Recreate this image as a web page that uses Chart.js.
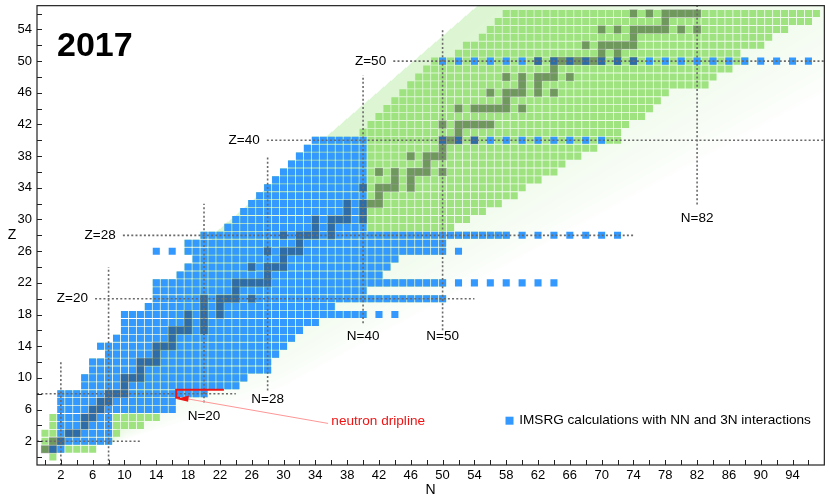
<!DOCTYPE html>
<html>
<head>
<meta charset="utf-8">
<title>Nuclear chart 2017</title>
<script src="https://cdn.jsdelivr.net/npm/chart.js@4.4.0/dist/chart.umd.min.js"></script>
<style>
  html, body { margin: 0; padding: 0; background: #fff; }
  #chart { display: block; }
</style>
</head>
<body>
<canvas id="chart" width="830" height="500"></canvas>
<script>
// ---- data (index = proton number Z) ----

// known nuclei: lightest and heaviest neutron number for Z = 0..56
const knownLo = [1, 0, 0, 0, 1, 1, 2, 2, 2, 5, 5, 6, 6, 8, 7, 9, 10, 10, 10, 13,
    14, 14, 14, 17, 18, 19, 18, 18, 20, 23, 24, 25, 26, 27, 28, 29, 30, 31, 32, 33,
    34, 40, 41, 42, 43, 44, 45, 46, 47, 48, 49, 52, 53, 55, 56, 57, 58];
const knownHi = [1, 6, 8, 9, 12, 14, 16, 16, 20, 24, 25, 28, 28, 29, 30, 31, 32, 34, 40, 36,
    50, 40, 50, 42, 43, 44, 50, 50, 58, 51, 53, 55, 57, 59, 60, 62, 64, 65, 67, 69,
    72, 72, 73, 75, 76, 77, 78, 83, 84, 86, 88, 87, 90, 91, 93, 96, 97];

// IMSRG calculations: contiguous block of N for Z = 0..40
const calcLo = [null, 1, 2, 2, 2, 2, 2, 2, 2, 5, 5, 6, 6, 8, 7, 9, 10, 10, 10, 13,
    14, 14, 14, 17, 18, 19, 18, 18, 20, 23, 24, 25, 26, 27, 28, 29, 30, 31, 32, 33, 34];
const calcHi = [null, 2, 8, 8, 8, 8, 16, 16, 20, 24, 25, 28, 28, 29, 30, 31, 32, 34, 40, 36,
    50, 40, 50, 42, 43, 44, 50, 50, 58, 40, 40, 40, 40, 40, 40, 40, 40, 40, 40, 40, 40];

// IMSRG calculations outside the blocks: [Z, list of N]
const calcChains = [
    [18, [42, 44]],
    [22, [52, 54, 56, 58, 60, 62, 64]],
    [26, [14, 16, 52]],
    [28, [60, 62, 64, 66, 68, 70, 72]],
    [40, [50, 52, 54, 56, 58, 60, 62, 64, 66, 68, 70]],
    [50, [50, 52, 54, 56, 58, 60, 62, 64, 66, 68, 70, 72, 74, 76, 78, 80, 82, 84, 86, 88, 90, 92, 94, 96]]
];

// stable nuclei: N values for Z = 0..56
const stableN = [
    [], [0, 1], [1, 2], [3, 4], [5], [5, 6], [6, 7], [7, 8], [8, 9, 10], [10],
    [10, 11, 12], [12], [12, 13, 14], [14], [14, 15, 16], [16], [16, 17, 18, 20], [18, 20], [18, 20, 22], [20, 22],
    [20, 22, 23, 24, 26], [24], [24, 25, 26, 27, 28], [28], [26, 28, 29, 30], [30], [28, 30, 31, 32], [32], [30, 32, 33, 34, 36], [34, 36],
    [34, 36, 37, 38, 40], [38, 40], [38, 40, 41, 42], [42], [40, 42, 43, 44, 46], [44, 46], [42, 44, 46, 47, 48, 50], [48], [46, 48, 49, 50], [50],
    [50, 51, 52, 54], [52], [50, 52, 53, 54, 55, 56], [], [52, 54, 55, 56, 57, 58, 60], [58], [56, 58, 59, 60, 62, 64], [60, 62], [58, 60, 62, 63, 64, 66], [64],
    [62, 64, 65, 66, 67, 68, 69, 70, 72, 74], [70, 72], [68, 70, 71, 72, 73, 74], [74], [70, 72, 74, 75, 76, 77, 78, 80, 82], [78], [74, 76, 78, 79, 80, 81, 82]
];

// magic numbers: [value, from, to]
const magicZ = [[2, -1, 12], [8, -1, 24], [20, 6.3, 54], [28, 9.8, 74], [40, 27.9, 98], [50, 43.8, 98]];
const magicN = [[2, -1, 12], [8, -1, 24], [20, 6.9, 32], [28, 8.4, 38], [40, 16.9, 48.2], [50, 16, 54], [82, 31.9, 57]];
const labelZ = [20, 28, 40, 50];
const labelN = [[20, 5.2], [28, 7.3], [40, 15.2], [50, 15.2], [82, 30.1]];

// labelled ticks
const nTickLabels = [2, 6, 10, 14, 18, 22, 26, 30, 34, 38, 42, 46, 50, 54, 58, 62, 66, 70, 74, 78, 82, 86, 90, 94];
const zTickLabels = [2, 6, 10, 14, 18, 22, 26, 30, 34, 38, 42, 46, 50, 54];

const yearText = '2017';
const calcLabel = 'IMSRG calculations with NN and 3N interactions';
const driplineText = 'neutron dripline';

// ---- build the point lists ----
const knownPts = [];
knownLo.forEach((lo, z) => {
    for (let n = lo; n <= knownHi[z]; n++) knownPts.push({ x: n, y: z });
});

const calcPts = [];
calcLo.forEach((lo, z) => {
    if (lo === null) return;
    for (let n = lo; n <= calcHi[z]; n++) calcPts.push({ x: n, y: z });
});
calcChains.forEach(([z, list]) => list.forEach(n => calcPts.push({ x: n, y: z })));

const stablePts = [];
stableN.forEach((list, z) => list.forEach(n => stablePts.push({ x: n, y: z })));

// ---- drawing helpers ----
const FONT = "'Liberation Sans', Arial, Helvetica, sans-serif";
const GREEN = 'rgb(158, 227, 128)';
const BLUE = 'rgb(51, 153, 255)';

// edges of the shaded band (N, Z)
const bandUpper = [[8, 1.5], [21.5, 28.4], [54.4, 57]];
const bandLower = [[8, 1.5], [14, 3.4], [22, 5.6], [30, 8.6], [41.9, 15.0], [89.4, 40.9]];

function lineAt(pts, n) {
    if (n < pts[0][0]) return null;
    for (let i = 1; i < pts.length; i++) {
        if (n <= pts[i][0] || i === pts.length - 1) {
            const [n0, z0] = pts[i - 1];
            const [n1, z1] = pts[i];
            return z0 + (z1 - z0) * (n - n0) / (n1 - n0);
        }
    }
    return null;
}

const bandPlugin = {
    id: 'band',
    beforeDatasetsDraw(chart) {
        const { ctx, chartArea: a, scales: { x, y } } = chart;
        const w = Math.round(a.right - a.left);
        const h = Math.round(a.bottom - a.top);
        const off = document.createElement('canvas');
        off.width = w;
        off.height = h;
        const octx = off.getContext('2d');
        const img = octx.createImageData(w, h);
        for (let j = 0; j < h; j++) {
            const z = y.getValueForPixel(a.top + j + 0.5);
            for (let i = 0; i < w; i++) {
                const n = x.getValueForPixel(a.left + i + 0.5);
                const lo = lineAt(bandLower, n);
                const hi = lineAt(bandUpper, n);
                if (lo === null || hi === null || z <= lo || z >= hi) continue;
                const t = (z - lo) / (hi - lo);
                const k = (j * w + i) * 4;
                img.data[k] = 158;
                img.data[k + 1] = 227;
                img.data[k + 2] = 128;
                img.data[k + 3] = Math.round(255 * 0.36 * Math.pow(t, 0.7));
            }
        }
        octx.putImageData(img, 0, 0);
        ctx.drawImage(off, a.left, a.top, w, h);
    }
};

const overlayPlugin = {
    id: 'overlay',
    afterDatasetsDraw(chart) {
        const { ctx, chartArea: a, scales: { x, y } } = chart;
        const px = n => x.getPixelForValue(n);
        const py = z => y.getPixelForValue(z);

        ctx.save();
        ctx.beginPath();
        ctx.rect(a.left, a.top, a.right - a.left, a.bottom - a.top);
        ctx.clip();

        // dotted magic number lines
        ctx.strokeStyle = '#6a6a6a';
        ctx.lineWidth = 1.6;
        ctx.setLineDash([2, 2.2]);
        magicZ.forEach(([z, n0, n1]) => {
            ctx.beginPath();
            ctx.moveTo(px(n0), py(z));
            ctx.lineTo(px(n1), py(z));
            ctx.stroke();
        });
        magicN.forEach(([n, z0, z1]) => {
            ctx.beginPath();
            ctx.moveTo(px(n), py(z0));
            ctx.lineTo(px(n), py(z1));
            ctx.stroke();
        });
        ctx.setLineDash([]);

        // labels
        ctx.fillStyle = '#000';
        ctx.font = '13.5px ' + FONT;
        ctx.textBaseline = 'middle';
        ctx.textAlign = 'right';
        labelZ.forEach(z => {
            const line = magicZ.find(l => l[0] === z);
            ctx.fillText('Z=' + z, px(line[1] - 0.9), py(z));
        });
        ctx.textAlign = 'center';
        labelN.forEach(([n, z]) => ctx.fillText('N=' + n, px(n), py(z)));

        // neutron dripline marker
        ctx.strokeStyle = 'rgb(255, 150, 150)';
        ctx.lineWidth = 1;
        ctx.beginPath();
        ctx.moveTo(px(18), py(7.34));
        ctx.lineTo(px(35.6), py(4.25));
        ctx.stroke();

        ctx.strokeStyle = 'rgb(240, 20, 20)';
        ctx.lineWidth = 2;
        ctx.beginPath();
        ctx.moveTo(px(22.5), py(8.5));
        ctx.lineTo(px(16.5), py(8.5));
        ctx.lineTo(px(16.5), py(7.5));
        ctx.lineTo(px(17), py(7.5));
        ctx.stroke();

        ctx.fillStyle = 'rgb(240, 20, 20)';
        ctx.beginPath();
        ctx.moveTo(px(16.55), py(7.34));
        ctx.lineTo(px(18.1), py(7.78));
        ctx.lineTo(px(18.0), py(6.98));
        ctx.closePath();
        ctx.fill();

        ctx.font = '13.6px ' + FONT;
        ctx.textAlign = 'center';
        ctx.fillText(driplineText, px(41.9), py(4.56));

        ctx.restore();
    },
    afterDraw(chart) {
        const { ctx, chartArea: a, scales: { x, y } } = chart;
        ctx.save();

        // inward tick marks every 2
        ctx.strokeStyle = '#222';
        ctx.lineWidth = 1;
        ctx.beginPath();
        for (let n = 0; n < x.max; n += 2) {
            const p = Math.round(x.getPixelForValue(n)) + 0.5;
            ctx.moveTo(p, a.bottom);
            ctx.lineTo(p, a.bottom - 5);
        }
        for (let z = 0; z < y.max; z += 2) {
            const p = Math.round(y.getPixelForValue(z)) + 0.5;
            ctx.moveTo(a.left, p);
            ctx.lineTo(a.left + 5, p);
        }
        ctx.stroke();

        // frame
        ctx.lineWidth = 1.2;
        ctx.strokeRect(a.left, a.top, a.right - a.left, a.bottom - a.top);

        // tick labels
        ctx.fillStyle = '#000';
        ctx.font = '13px ' + FONT;
        ctx.textBaseline = 'middle';
        ctx.textAlign = 'center';
        nTickLabels.forEach(n => ctx.fillText(String(n), x.getPixelForValue(n), a.bottom + 10));
        ctx.textAlign = 'right';
        zTickLabels.forEach(z => ctx.fillText(String(z), a.left - 5, y.getPixelForValue(z)));

        // axis titles
        ctx.font = '14px ' + FONT;
        ctx.textAlign = 'center';
        ctx.fillText('N', (a.left + a.right) / 2, 490);
        ctx.fillText('Z', 12, (a.top + a.bottom) / 2);

        // year
        ctx.font = 'bold 34px ' + FONT;
        ctx.textAlign = 'left';
        ctx.textBaseline = 'alphabetic';
        ctx.fillText(yearText, a.left + 20, a.top + 50);

        // legend
        const label = chart.data.datasets[1].label;
        ctx.font = '13.6px ' + FONT;
        ctx.textAlign = 'right';
        ctx.textBaseline = 'middle';
        const tx = a.right - 13.5;
        const tw = ctx.measureText(label).width;
        ctx.fillText(label, tx, 420.5);
        ctx.fillStyle = BLUE;
        ctx.fillRect(tx - tw - 13.7, 416.7, 8, 8);

        ctx.restore();
    }
};

Chart.defaults.font.family = FONT;
Chart.defaults.font.size = 13;
Chart.defaults.color = '#000';

const cx = document.getElementById('chart').getContext('2d');
new Chart(cx, {
    type: 'scatter',
    data: {
        datasets: [{
            label: 'stable',
            data: stablePts,
            pointStyle: 'rect',
            pointRadius: 5.66,
            backgroundColor: 'rgba(40, 40, 40, 0.4)',
            borderWidth: 0,
            order: 0
        }, {
            label: calcLabel,
            data: calcPts,
            pointStyle: 'rect',
            pointRadius: 5,
            backgroundColor: BLUE,
            borderWidth: 0,
            order: 1
        }, {
            label: 'known',
            data: knownPts,
            pointStyle: 'rect',
            pointRadius: 5,
            backgroundColor: GREEN,
            borderWidth: 0,
            order: 2
        }]
    },
    options: {
        responsive: false,
        animation: false,
        events: [],
        layout: { padding: { top: 2, right: 1.5, left: 0, bottom: 0 } },
        plugins: {
            legend: { display: false },
            tooltip: { enabled: false }
        },
        scales: {
            x: {
                type: 'linear',
                min: -1,
                max: 98,
                grid: { display: false, drawTicks: false },
                border: { display: false },
                ticks: { display: false, stepSize: 2 },
                afterFit(s) { s.height = 35; s.paddingLeft = 0; s.paddingRight = 0; }
            },
            y: {
                type: 'linear',
                min: -1,
                max: 57,
                grid: { display: false, drawTicks: false },
                border: { display: false },
                ticks: { display: false, stepSize: 2 },
                afterFit(s) { s.width = 37; s.paddingTop = 0; s.paddingBottom = 0; }
            }
        }
    },
    plugins: [bandPlugin, overlayPlugin]
});
</script>
</body>
</html>
